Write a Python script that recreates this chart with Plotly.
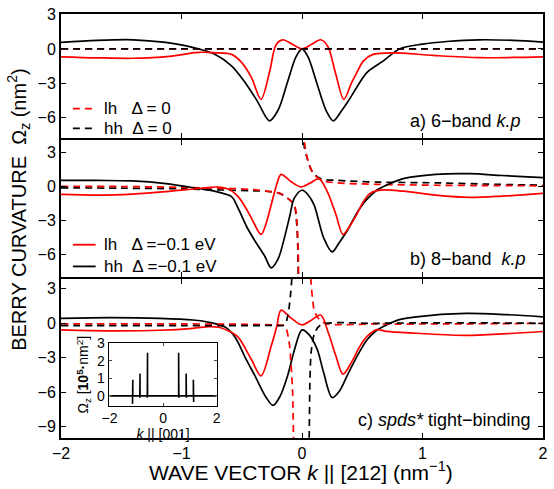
import plotly.graph_objects as go

# ---------------- data ----------------
# panel a) 6-band k.p
ka_hh = [-2, -1.7, -1.4, -1.13, -0.97, -0.86, -0.72, -0.585, -0.475, -0.37, -0.27, -0.2, -0.12, -0.05, 0,
         0.05, 0.12, 0.2, 0.26, 0.33, 0.4, 0.47, 0.54, 0.675, 0.81, 1.0, 1.2, 1.47, 1.75, 2]
a_hh = [0.57, 0.75, 0.8, 0.57, 0.29, 0.0, -0.48, -1.48, -2.9, -4.6, -6.3, -5.4, -2.9, -0.7, 0.0,
        -0.7, -2.9, -5.4, -6.3, -5.4, -4.3, -3.1, -2.05, -1.05, 0.0, 0.42, 0.65, 0.8, 0.75, 0.6]
ka_lh = [-2, -1.7, -1.4, -1.1, -0.86, -0.72, -0.585, -0.5, -0.42, -0.34, -0.27, -0.215, -0.16, -0.08, 0,
         0.08, 0.155, 0.215, 0.28, 0.347, 0.41, 0.456, 0.51, 0.59, 0.76, 1.09, 1.47, 1.75, 2]
a_lh = [-0.69, -0.78, -0.82, -0.65, -0.3, -0.34, -0.48, -1.2, -2.5, -4.42, -2.05, 0.37, 0.8, 0.4, 0.0,
        0.4, 0.8, 0.2, -2.2, -4.42, -3.0, -2.05, -1.05, -0.48, -0.34, -0.57, -0.77, -0.75, -0.69]
ka_dash = [-2, -1, 0, 1, 2]
a_lh_dash = [0, 0, 0, 0, 0]
a_hh_dash = [0, 0, 0, 0, 0]

# panel b) 8-band k.p
kb_hh = [-2, -1.7, -1.41, -1.13, -0.86, -0.72, -0.585, -0.53, -0.46, -0.39, -0.31, -0.256, -0.2, -0.146,
         -0.1, -0.064, 0.0, 0.05, 0.1, 0.18, 0.25, 0.31, 0.374, 0.456, 0.53, 0.62, 0.7, 0.84, 1.11, 1.39, 1.66, 2]
b_hh = [0.57, 0.56, 0.52, 0.29, -0.15, -0.4, -0.87, -1.89, -3.5, -4.78, -6.1, -7.15, -6.4, -4.5,
        -2.5, -1.0, -0.3, -0.7, -1.6, -4.5, -5.74, -4.9, -3.9, -2.3, -1.2, -0.3, 0.14, 0.72, 1.1, 1.16, 1.0, 0.81]
kb_lh = [-2, -1.68, -1.41, -1.13, -0.86, -0.7, -0.6, -0.53, -0.47, -0.42, -0.34, -0.3, -0.256, -0.21, -0.174,
         -0.09, -0.01, 0.07, 0.14, 0.21, 0.28, 0.34, 0.4, 0.456, 0.51, 0.565, 0.65, 0.84, 1.11, 1.39, 1.66, 2]
b_lh = [-0.67, -0.73, -0.64, -0.43, -0.15, -0.02, -0.25, -0.87, -1.8, -2.76, -4.2, -3.3, -1.6, 0.2, 1.1,
        0.45, 0.0, 0.35, 0.72, -0.43, -2.4, -4.2, -3.4, -2.4, -1.3, -0.58, -0.29, -0.38, -0.73, -0.93, -0.82, -0.58]
kb_lh_dash_l = [-2, -1.5, -1.0, -0.585, -0.4, -0.26, -0.18, -0.12, -0.064, -0.043, -0.033, -0.027]
b_lh_dash_l = [0.05, 0.03, -0.05, -0.15, -0.25, -0.43, -0.6, -1.0, -1.6, -3.0, -5.0, -9.0]
kb_hh_dash_l = [-2, -1.5, -1.0, -0.585, -0.4, -0.26, -0.18, -0.12, -0.066, -0.046, -0.036, -0.03]
b_hh_dash_l = [-0.09, -0.12, -0.18, -0.3, -0.35, -0.43, -0.6, -1.0, -1.6, -3.0, -5.0, -9.0]
kb_lh_dash_r = [0.012, 0.025, 0.05, 0.1, 0.17, 0.29, 0.62, 1.11, 1.5, 2]
b_lh_dash_r = [5.0, 3.6, 2.3, 1.1, 0.55, 0.35, 0.22, 0.14, 0.11, 0.09]
kb_hh_dash_r = [0.008, 0.018, 0.045, 0.086, 0.155, 0.29, 0.62, 1.11, 1.5, 2]
b_hh_dash_r = [5.0, 3.6, 2.46, 1.3, 0.72, 0.57, 0.42, 0.35, 0.25, 0.14]

# panel c) spds* tight-binding
kc_hh = [-2, -1.59, -1.18, -0.905, -0.77, -0.63, -0.55, -0.47, -0.39, -0.3, -0.24, -0.18, -0.12, -0.06, 0.0,
         0.06, 0.127, 0.18, 0.25, 0.31, 0.374, 0.45, 0.54, 0.62, 0.675, 0.8, 0.95, 1.36, 1.7, 2]
c_hh = [0.43, 0.49, 0.43, 0.29, 0.09, -0.37, -1.29, -3.0, -4.57, -6.4, -7.14, -6.3, -4.57, -2.2, -0.57,
        -1.0, -2.28, -4.3, -6.45, -5.9, -4.57, -3.0, -1.43, -0.6, -0.28, 0.3, 0.57, 0.86, 0.75, 0.57]
kc_lh = [-2, -1.59, -1.18, -0.905, -0.77, -0.69, -0.6, -0.53, -0.42, -0.34, -0.256, -0.21, -0.174, -0.09, 0.0,
         0.08, 0.155, 0.22, 0.28, 0.34, 0.41, 0.48, 0.54, 0.62, 0.7, 0.95, 1.36, 1.7, 2]
c_lh = [-0.57, -0.65, -0.6, -0.43, -0.28, -0.34, -0.71, -1.2, -3.14, -4.57, -2.0, -0.3, 1.15, 0.45, -0.14,
        0.3, 0.72, -0.86, -2.8, -4.42, -3.4, -2.0, -1.14, -0.55, -0.7, -0.86, -1.05, -0.9, -0.71]
kc_lh_dash_l = [-2, -1.5, -1.0, -0.5, -0.25, -0.146, -0.11, -0.092, -0.078, -0.07]
c_lh_dash_l = [-0.05, -0.05, -0.05, -0.08, -0.14, -0.22, -1.43, -3.4, -6.0, -10.5]
kc_hh_dash_l = [-2, -1.5, -1.0, -0.5, -0.25, -0.146, -0.12, -0.097, -0.084, -0.079]
c_hh_dash_l = [-0.2, -0.2, -0.2, -0.2, -0.18, -0.14, 0.57, 2.3, 4.0, 5.0]
kc_lh_dash_r = [0.065, 0.072, 0.086, 0.11, 0.18, 0.62, 1.2, 2]
c_lh_dash_r = [5.0, 4.0, 2.3, 0.86, 0.06, -0.05, -0.05, 0.0]
kc_hh_dash_r = [0.058, 0.06, 0.067, 0.078, 0.105, 0.155, 0.62, 1.2, 2]
c_hh_dash_r = [-11.0, -9.7, -4.57, -2.3, -0.86, -0.14, 0.0, 0.05, 0.0]

# inset: Omega_z along k || [001]  (units 1e5 nm^2)
inset_k = [-2, -1.14, -1.14, -1.13, -1.13, -0.87, -0.87, -0.86, -0.86, -0.59, -0.59, -0.58, -0.58,
           0.58, 0.58, 0.59, 0.59, 0.86, 0.86, 0.87, 0.87, 1.13, 1.13, 1.14, 1.14, 2]
inset_om = [0, 0, -0.45, 0.91, 0, 0, -0.1, 1.27, 0, 0, -0.1, 2.45, 0,
            0, 2.45, -0.1, 0, 0, 1.27, -0.1, 0, 0, 0.91, -0.35, 0, 0]

# ticks
x_ticks = [-2, -1, 0, 1, 2]
ya_ticks = [3, 0, -3, -6]
yb_ticks = [3, 0, -3, -6]
yc_ticks = [3, 0, -3, -6, -9]
inset_xticks = [-2, 0, 2]
inset_yticks = [0, 1, 2, 3]

# legend entries (label, colour, dash)
legend_a = [("lh   Δ = 0", "#ff0000", "7px,5px"), ("hh  Δ = 0", "#000000", "7px,5px")]
legend_b = [("lh   Δ =−0.1 eV", "#ff0000", "solid"), ("hh  Δ =−0.1 eV", "#000000", "solid")]

# ---------------- figure ----------------
RED = "#ff0000"
BLK = "#000000"
FONT = "Liberation Sans, Arial, Helvetica, sans-serif"
DASH = "7px,5px"

fig = go.Figure()


def add(x, y, color, dash, xa, ya, width=1.7):
    fig.add_trace(go.Scatter(
        x=x, y=y, mode="lines", xaxis=xa, yaxis=ya,
        line=dict(color=color, width=width, dash=dash, shape="spline", smoothing=0.9),
        showlegend=False, hoverinfo="skip"))


# panel a
add(ka_hh, a_hh, BLK, "solid", "x", "y")
add(ka_lh, a_lh, RED, "solid", "x", "y")
add(ka_dash, a_lh_dash, RED, DASH, "x", "y")
add(ka_dash, a_hh_dash, BLK, DASH, "x", "y")

# panel b
add(kb_hh_dash_l, b_hh_dash_l, BLK, DASH, "x2", "y2")
add(kb_hh_dash_r, b_hh_dash_r, BLK, DASH, "x2", "y2")
add(kb_lh_dash_l, b_lh_dash_l, RED, DASH, "x2", "y2")
add(kb_lh_dash_r, b_lh_dash_r, RED, DASH, "x2", "y2")
add(kb_hh, b_hh, BLK, "solid", "x2", "y2")
add(kb_lh, b_lh, RED, "solid", "x2", "y2")

# panel c
add(kc_hh, c_hh, BLK, "solid", "x3", "y3")
add(kc_lh, c_lh, RED, "solid", "x3", "y3")
add(kc_lh_dash_l, c_lh_dash_l, RED, DASH, "x3", "y3")
add(kc_lh_dash_r, c_lh_dash_r, RED, DASH, "x3", "y3")
add(kc_hh_dash_l, c_hh_dash_l, BLK, DASH, "x3", "y3")
add(kc_hh_dash_r, c_hh_dash_r, BLK, DASH, "x3", "y3")

# inset
fig.add_trace(go.Scatter(x=inset_k, y=inset_om, mode="lines", xaxis="x4", yaxis="y4",
                         line=dict(color=BLK, width=1.6), showlegend=False, hoverinfo="skip"))

ax = dict(showline=True, linecolor=BLK, linewidth=2, mirror="ticks", ticks="inside",
          ticklen=5, tickwidth=1.2, tickcolor=BLK, zeroline=False, showgrid=False,
          tickfont=dict(size=16, color=BLK, family=FONT), ticklabeloverflow="allow")

# plot area: 430 px tall; 2 px gaps so that neighbouring frame lines coincide
H = 430.0
dom_a = [(438 - 134) / H, 1.0]
dom_b = [(438 - 274.7) / H, (438 - 136) / H]
dom_c = [0.0, (438 - 276.7) / H]

fig.update_layout(
    width=554, height=489,
    margin=dict(l=61, r=6, t=8, b=51),
    paper_bgcolor="white", plot_bgcolor="white",
    font=dict(family=FONT, color=BLK),
    showlegend=False,
    xaxis=dict(ax, range=[-2, 2], tickvals=x_ticks, showticklabels=False, anchor="y"),
    yaxis=dict(ax, range=[-7.83, 3.06], tickvals=ya_ticks, domain=dom_a, anchor="x"),
    xaxis2=dict(ax, range=[-2, 2], tickvals=x_ticks, showticklabels=False, anchor="y2"),
    yaxis2=dict(ax, range=[-7.95, 4.11], tickvals=yb_ticks, domain=dom_b, anchor="x2"),
    xaxis3=dict(ax, range=[-2, 2], tickvals=x_ticks, anchor="y3"),
    yaxis3=dict(ax, range=[-9.97, 3.86], tickvals=yc_ticks, domain=dom_c, anchor="x3"),
    xaxis4=dict(showline=True, linecolor=BLK, linewidth=1, mirror="ticks", ticks="inside",
                ticklen=3, tickwidth=1, zeroline=False, showgrid=False, range=[-2, 2],
                tickvals=inset_xticks, domain=[0.1006, 0.323], anchor="y4",
                tickfont=dict(size=14, color=BLK), ticklabelstandoff=-1,
                title=dict(text="<i>k</i> || [001]", font=dict(size=14, color=BLK), standoff=0)),
    yaxis4=dict(showline=True, linecolor=BLK, linewidth=1, mirror="ticks", ticks="inside",
                ticklen=3, tickwidth=1, zeroline=False, showgrid=False, range=[-0.6, 3.0],
                tickvals=inset_yticks, domain=[(438 - 406) / H, (438 - 341.7) / H], anchor="x4",
                tickfont=dict(size=14, color=BLK), ticklabelstandoff=1,
                title=dict(text="Ω<sub>z</sub> [<b>10<sup>5</sup>·</b>nm<sup>2</sup>]",
                           font=dict(size=14, color=BLK), standoff=4)),
)

ann = [
    dict(text="a) 6−band <i>k.p</i>", x=0.959, y=(438 - 117) / H, xanchor="right", yanchor="middle",
         font=dict(size=18)),
    dict(text="b) 8−band  <i>k.p</i>", x=0.969, y=(438 - 256.7) / H, xanchor="right", yanchor="middle",
         font=dict(size=18)),
    dict(text="c) <i>spds*</i> tight−binding", x=0.9795, y=(438 - 420) / H, xanchor="right",
         yanchor="middle", font=dict(size=18)),
    dict(text="BERRY CURVATURE  Ω<sub>z</sub> (nm<sup>2</sup>)", x=-0.088, y=(438 - 207) / H,
         textangle=-90, xanchor="center", yanchor="middle", font=dict(size=20)),
    dict(text="WAVE VECTOR <i>k</i> || [212] (nm<sup>−1</sup>)", x=0.498, y=(438 - 471) / H,
         xanchor="center", yanchor="middle", font=dict(size=21)),
]

# hand-drawn legends (sample line + label) inside panels a and b
shapes = []
for entries, rows in ((legend_a, (104, 124)), (legend_b, (242, 264))):
    for (label, color, dash), ypx in zip(entries, rows):
        yp = (438 - ypx) / H
        shapes.append(dict(type="line", xref="paper", yref="paper", x0=(73 - 61) / 487.0,
                           x1=(96 - 61) / 487.0, y0=yp, y1=yp,
                           line=dict(color=color, width=1.8, dash=dash)))
        ann.append(dict(text=label, x=(102 - 61) / 487.0, y=yp, xanchor="left", yanchor="middle",
                        font=dict(size=17)))

for a in ann:
    a.update(xref="paper", yref="paper", showarrow=False)
    a["font"] = dict(a["font"], color=BLK, family=FONT)
fig.update_layout(annotations=ann, shapes=shapes)

fig.write_html("out.html")
